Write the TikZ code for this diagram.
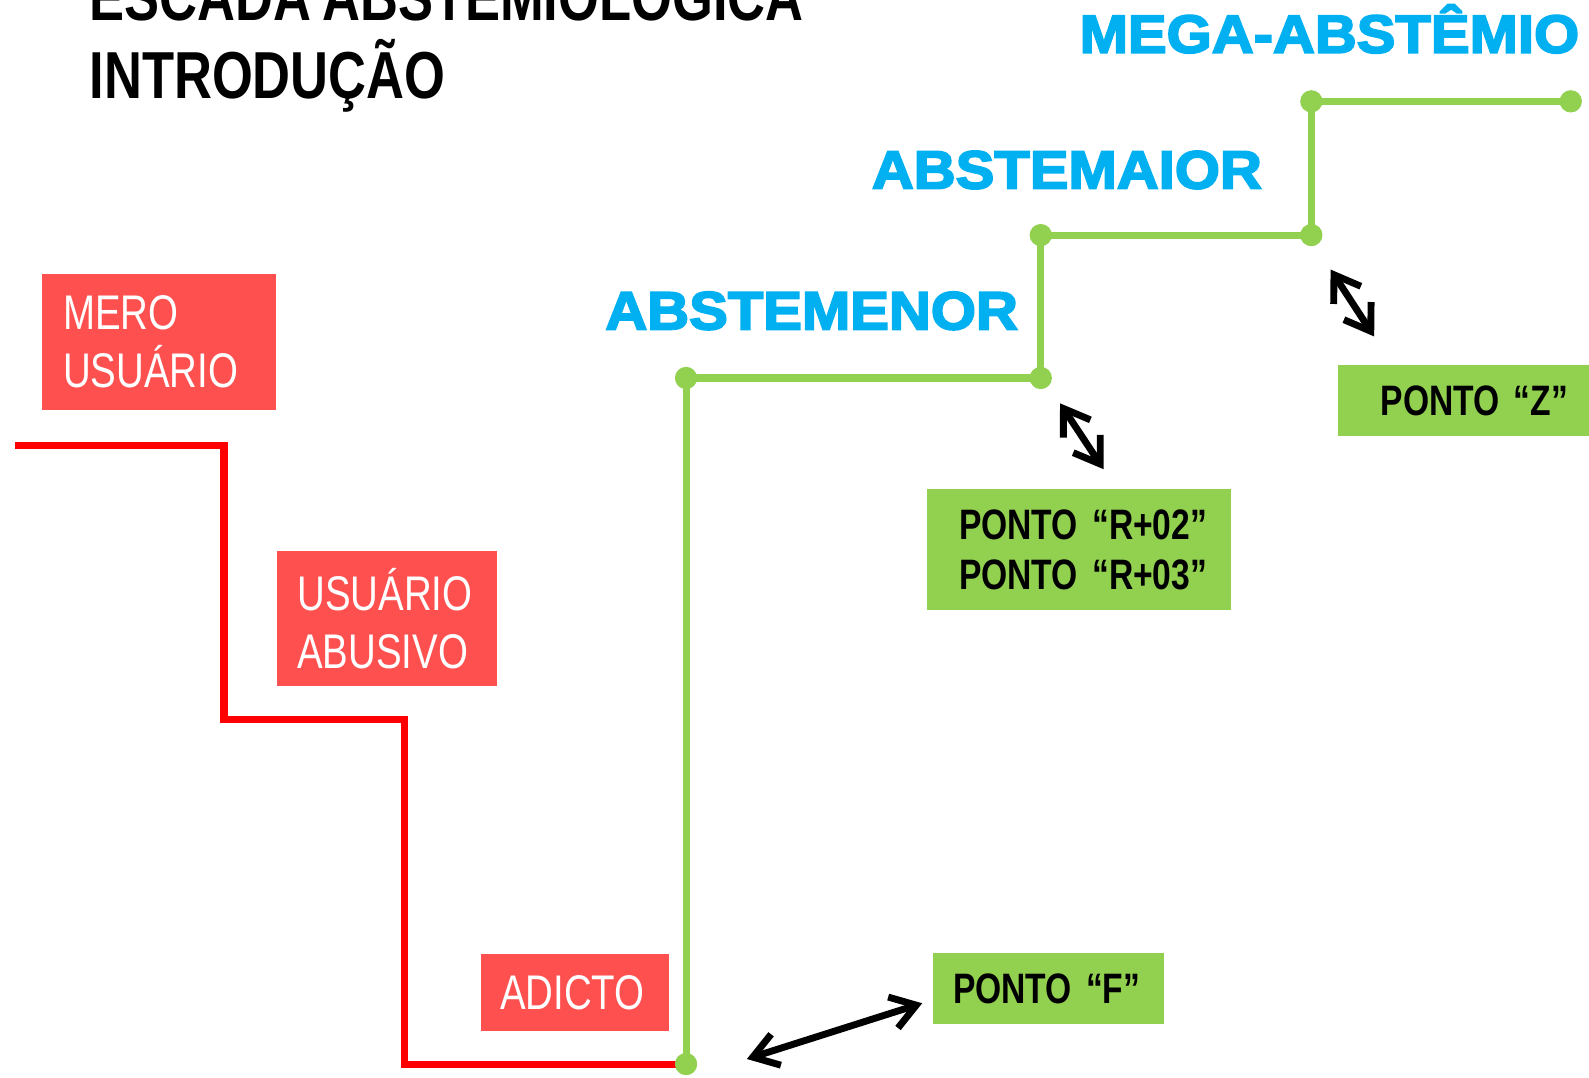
\documentclass[tikz,border=0pt]{standalone}
\usepackage{fontspec}
\setmainfont{Liberation Sans}
\newfontfamily\narrowfont[FakeStretch=0.79,WordSpace=0.75]{Liberation Sans}
\newfontfamily\heavyfont[FakeStretch=1.08,FakeBold=3.5]{Liberation Sans Bold}
\usetikzlibrary{arrows.meta}
\definecolor{stepred}{HTML}{FF0000}
\definecolor{boxred}{HTML}{FF5050}
\definecolor{stepgreen}{HTML}{92D050}
\definecolor{levelblue}{HTML}{00B0F0}

\begin{document}
\begin{tikzpicture}[x=0.5pt,y=-0.5pt,
                redbox/.style = {fill=boxred, text=white, anchor=north west, align=left, inner ysep=0pt,
                                 font=\narrowfont\fontsize{24}{28.5}\selectfont},
                greenbox/.style = {fill=stepgreen, text=black, anchor=north west, align=left, inner ysep=0pt,
                                   font=\narrowfont\bfseries\fontsize{21}{24.5}\selectfont},
                heading/.style = {anchor=base west, inner sep=0pt, font=\narrowfont\bfseries\fontsize{32.8}{38.5}\selectfont},
                level/.style = {text=levelblue, anchor=base west, inner sep=0pt, font=\heavyfont\fontsize{26.5}{30}\selectfont},
                redstep/.style = {draw=stepred, line width=3.5pt},
                greenstep/.style = {draw=stepgreen, line width=3.5pt},
                jump/.style = {draw=black, line width=3.4pt, line cap=round,
                               {Straight Barb[length=12pt,width=16pt]}-{Straight Barb[length=12pt,width=16pt]}}]
                \useasboundingbox (0,0) rectangle (1568,1063);
                % titles
                \node[heading] (title) at (88,20) {ESCADA ABSTEMIOLÓGICA};
                \node[heading] (subtitle) at (88,97) {INTRODUÇÃO};
                \node[level] (mega) at (1065,52) {MEGA-ABSTÊMIO};
                \node[level] (maior) at (860,186) {ABSTEMAIOR};
                \node[level] (menor) at (597,325) {ABSTEMENOR};
                % descending stairs
                \coordinate (r0) at (15,440);
                \coordinate (r1) at (221,440);
                \coordinate (r2) at (221,710);
                \coordinate (r3) at (399,710);
                \coordinate (r4) at (399,1050);
                \coordinate (r5) at (672,1050);
                \draw[redstep] (r0) -- (r1) -- (r2) -- (r3) -- (r4) -- (r5);
                \node[redbox, text width=94.5pt, inner xsep=10.5pt, minimum height=67pt] (mero) at (41,270) {MERO\\USUÁRIO};
                \node[redbox, text width=88.5pt, inner xsep=10pt, minimum height=67pt] (abusivo) at (273,543) {USUÁRIO\\ABUSIVO};
                \node[redbox, text width=74pt, inner xsep=9.5pt, minimum height=38pt] (adicto) at (474,941) {ADICTO};
                % ascending stairs
                \coordinate (g0) at (677,1050);
                \coordinate (g1) at (677,373);
                \coordinate (g2) at (1027,373);
                \coordinate (g3) at (1027,232);
                \coordinate (g4) at (1294,232);
                \coordinate (g5) at (1294,100);
                \coordinate (g6) at (1550,100);
                \draw[greenstep] (g0) -- (g1) -- (g2) -- (g3) -- (g4) -- (g5) -- (g6);
                \foreach \i in {0,...,6}
                    \fill[stepgreen] (g\i) circle (5.5pt);
                \node[greenbox, text width=118pt, inner xsep=16pt, minimum height=60pt] (pontoR) at (914,482) {PONTO~“R+02”\\PONTO~“R+03”};
                \node[greenbox, text width=82pt, inner xsep=21pt, minimum height=35pt] (pontoZ) at (1320,360) {PONTO~“Z”};
                \node[greenbox, text width=94pt, inner xsep=10pt, minimum height=35pt] (pontoF) at (920,940) {PONTO~“F”};
                % arrows
                \coordinate (f1) at (737,1045);
                \coordinate (f2) at (910,990);
                \coordinate (rr1) at (1046,398);
                \coordinate (rr2) at (1089,463);
                \coordinate (z1) at (1313,266);
                \coordinate (z2) at (1356,332);
                \draw[jump] (f1) -- (f2);
                \draw[jump] (rr1) -- (rr2);
                \draw[jump] (z1) -- (z2);
            \end{tikzpicture}
\end{document}
